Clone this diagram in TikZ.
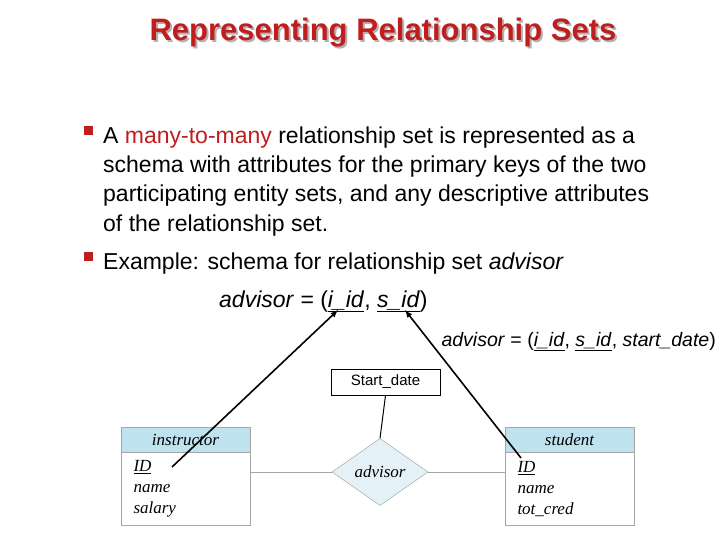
\documentclass[tikz,border=0pt]{standalone}
\usepackage{fontspec}
\setmainfont{Liberation Sans}
\newfontfamily\erfont{Liberation Serif}
\usetikzlibrary{shapes.geometric}
\definecolor{titlered}{RGB}{192,30,30}
\definecolor{headblue}{RGB}{190,226,238}
\definecolor{diamondblue}{RGB}{228,242,248}
\tikzset{
  % For body text lines.
  body/.style={
    anchor=base west,
    inner sep=0pt,
    font=\fontsize{23}{27}\selectfont},
%
  % For red square bullets.
  bullet/.style={
    fill=titlered,
    minimum size=9pt,
    inner sep=0pt},
%
  % For entity headers and bodies.
  entity head/.style={
    draw=gray!70,
    fill=headblue,
    minimum width=129pt,
    minimum height=25pt,
    inner sep=0pt,
    font=\erfont\itshape\fontsize{17}{20}\selectfont},
  entity body/.style={
    draw=gray!70,
    minimum width=129pt,
    minimum height=73pt,
    inner xsep=0pt,
    inner ysep=5pt,
    align=left,
    text width=104pt,
    font=\erfont\itshape\fontsize{17}{21}\selectfont},
%
  % For the relationship diamond.
  relation/.style={
    diamond,
    draw=gray!80,
    fill=diamondblue,
    minimum width=96pt,
    minimum height=67pt,
    inner sep=0pt,
    font=\erfont\itshape\fontsize{17}{20}\selectfont},
%
  % For the attribute box.
  attr/.style={
    draw,
    line width=1pt,
    minimum width=109pt,
    minimum height=26pt,
    inner sep=0pt,
    font=\fontsize{15}{18}\selectfont},
%
  % For the black pointers.
  pointer/.style={
    line width=1.6pt,
    -latex}
}
\begin{document}
\begin{tikzpicture}[x=1pt,y=-1pt]
  \useasboundingbox (0,0) rectangle (720,540);

  % Title with a light shadow.
  \node[text=gray!60, font=\bfseries\fontsize{31}{35}\selectfont] (shadow) at (385,35) {Representing Relationship Sets};
  \node[text=titlered, font=\bfseries\fontsize{31}{35}\selectfont] (title) at (383,33) {Representing Relationship Sets};

  % Bullets and body text.
  \node[bullet] (b1) at (88,131) {};
  \node[body] (l1) at (103,144) {A \textcolor{titlered}{many-to-many} relationship set is represented as a};
  \node[body] (l2) at (103,173) {schema with attributes for the primary keys of the two};
  \node[body] (l3) at (103,202) {participating entity sets, and any descriptive attributes};
  \node[body] (l4) at (103,231) {of the relationship set.};
  \node[bullet] (b2) at (88,256) {};
  \node[body] (l5) at (103,269) {Example: schema for relationship set \textit{advisor}};

  % Schemas.
  \node[body] (schema1) at (219,307) {\textit{advisor} = (\underline{\textit{i\_id}}, \underline{\textit{s\_id}})};
  \node[body, anchor=base east, font=\fontsize{19.5}{23}\selectfont] (schema2) at (716,346)
    {\textit{advisor} = (\underline{\textit{i\_id}}, \underline{\textit{s\_id}}, \textit{start\_date})};
  \coordinate (target1) at (338,310);
  \coordinate (target2) at (405,310);

  % E-R diagram.
  \node[entity head] (instructor) at (185.5,439.5) {instructor};
  \node[entity body, anchor=north] (instructorattrs) at (instructor.south) {\underline{ID}\\name\\salary};
  \node[entity head] (student) at (569.5,439.5) {student};
  \node[entity body, anchor=north] (studentattrs) at (student.south) {\underline{ID}\\name\\tot\_cred};
  \node[relation] (advisor) at (380,472) {advisor};
  \node[attr] (startdate) at (385.5,382) {Start\_date};
  \coordinate (instrid) at (172,467);
  \coordinate (studid) at (521,458);

  \draw[gray!70] (instructorattrs.east |- advisor) -- (advisor.west);
  \draw[gray!70] (advisor.east) -- (studentattrs.west |- advisor);
  \draw[line width=1pt] (startdate.south) -- (advisor.north);
  \draw[pointer] (instrid) -- (target1);
  \draw[pointer] (studid) -- (target2);
\end{tikzpicture}
\end{document}
